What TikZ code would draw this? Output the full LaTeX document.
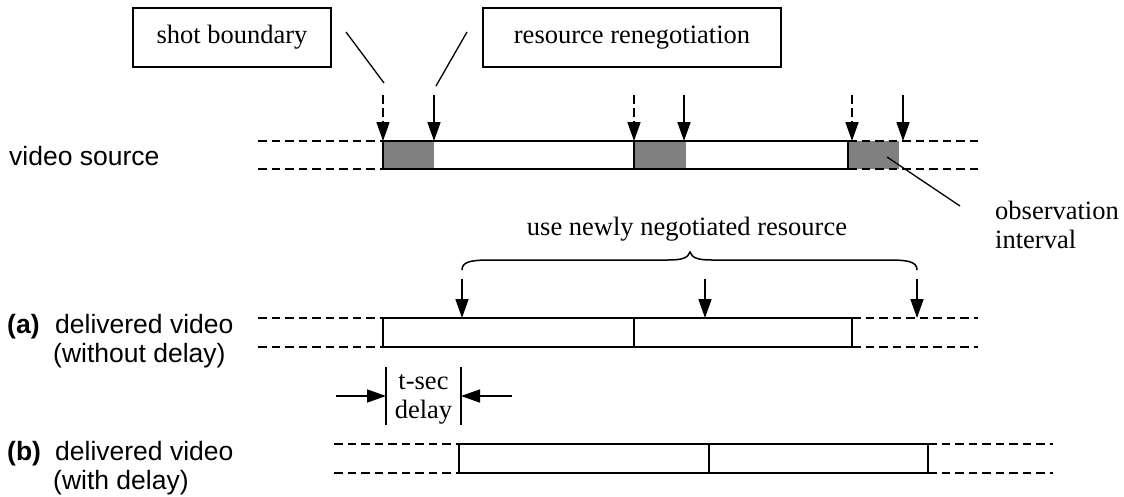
\documentclass[tikz,border=0pt]{standalone}
\usepackage{fontspec}
\setmainfont{Liberation Serif}
\newfontfamily\sansf{Liberation Sans}
\usetikzlibrary{arrows.meta}
\definecolor{obsgray}{HTML}{808080}
\begin{document}
\begin{tikzpicture}[x=1pt,y=-1pt,
  ln/.style={line width=1.6pt},
  thickln/.style={line width=2.4pt},
  dashln/.style={line width=1.6pt,dash pattern=on 8.5pt off 5pt},
  arr/.style={line width=1.7pt,-{Triangle[length=19pt,width=13pt]}},
  darr/.style={arr,dash pattern=on 9pt off 4pt},
  cbox/.style={draw,line width=1.4pt,minimum height=59pt,inner sep=0pt,font=\fontsize{26.5}{29}\selectfont},
  serif/.style={inner sep=0pt,font=\fontsize{26.5}{29}\selectfont},
  sans/.style={inner sep=0pt,font=\fontsize{26.5}{29}\selectfont\sansf},
  sansb/.style={inner sep=0pt,font=\fontsize{26.5}{29}\selectfont\sansf\bfseries}]
\useasboundingbox (0,0) rectangle (1124,496);

% callout boxes
\node[cbox,minimum width=198pt] (sb) at (232,37.5) {shot boundary};
\node[cbox,minimum width=298pt] (rr) at (632,37.5) {resource renegotiation};
\coordinate (sbA) at (346,32); \coordinate (sbB) at (384,83);
\coordinate (rrA) at (467,32); \coordinate (rrB) at (436,86);
\draw[line width=1.3pt] (sbA) -- (sbB);
\draw[line width=1.3pt] (rrA) -- (rrB);

% video source row
\fill[obsgray] (383,141) rectangle (434,169);
\fill[obsgray] (634,141) rectangle (686,169);
\fill[obsgray] (848,141) rectangle (899,169);
\draw[ln] (383,141) rectangle (848,169);
\draw[thickln] (634,141) -- (634,169);
\draw[dashln] (258,141) -- (383,141);
\draw[dashln] (258,169) -- (383,169);
\draw[dashln] (848,141) -- (979,141);
\draw[dashln] (848,169) -- (979,169);
\node[sans,anchor=base west] (vs) at (9,165) {video source};

\foreach \n/\x in {d1/383,d2/634,d3/852}{
  \coordinate (\n t) at (\x,95); \coordinate (\n b) at (\x,141);
  \draw[darr] (\n t) -- (\n b);}
\foreach \n/\x in {s1/434,s2/684,s3/903}{
  \coordinate (\n t) at (\x,95); \coordinate (\n b) at (\x,141);
  \draw[arr] (\n t) -- (\n b);}

% observation interval
\coordinate (obsA) at (887,157); \coordinate (obsB) at (960,206);
\draw[line width=1.3pt] (obsA) -- (obsB);
\node[serif,anchor=base west] (obs1) at (995,219) {observation};
\node[serif,anchor=base west] (obs2) at (995,248) {interval};

% brace
\node[serif,anchor=base] (use) at (687,235) {use newly negotiated resource};
\draw[line width=1.5pt] (462,270) .. controls (462,262) and (470,260) .. (490,260) -- (668,260)
  .. controls (682,260) and (688,258) .. (690,252)
  .. controls (692,258) and (698,260) .. (712,260) -- (889,260)
  .. controls (909,260) and (917,262) .. (917,270);

% row (a)
\foreach \n/\x in {a1/462,a2/705,a3/917}{
  \coordinate (\n t) at (\x,279); \coordinate (\n b) at (\x,318);
  \draw[arr] (\n t) -- (\n b);}
\draw[ln] (383,318) rectangle (852,347);
\draw[thickln] (634,318) -- (634,347);
\draw[dashln] (258,318) -- (383,318);
\draw[dashln] (258,347) -- (383,347);
\draw[dashln] (852,318) -- (978,318);
\draw[dashln] (852,347) -- (978,347);
\node[sansb,anchor=base west] (la) at (7,333) {(a)};
\node[sans,anchor=base west] (la1) at (55,333) {delivered video};
\node[sans,anchor=base west] (la2) at (53,362) {(without delay)};

% t-sec delay
\draw[line width=1.3pt] (386,367) -- (386,425);
\draw[line width=1.3pt] (461,367) -- (461,425);
\coordinate (tl) at (336,396); \coordinate (tlb) at (386,396);
\coordinate (tr) at (512,396); \coordinate (trb) at (461,396);
\draw[arr] (tl) -- (tlb);
\draw[arr] (tr) -- (trb);
\node[serif,anchor=base] (ts1) at (423.5,389) {t-sec};
\node[serif,anchor=base] (ts2) at (423.5,418) {delay};

% row (b)
\draw[ln] (459,444) rectangle (928,473);
\draw[thickln] (709,444) -- (709,473);
\draw[dashln] (334,444) -- (459,444);
\draw[dashln] (334,473) -- (459,473);
\draw[dashln] (928,444) -- (1053,444);
\draw[dashln] (928,473) -- (1053,473);
\node[sansb,anchor=base west] (lb) at (7,460) {(b)};
\node[sans,anchor=base west] (lb1) at (55,460) {delivered video};
\node[sans,anchor=base west] (lb2) at (53,489) {(with delay)};
\end{tikzpicture}
\end{document}
